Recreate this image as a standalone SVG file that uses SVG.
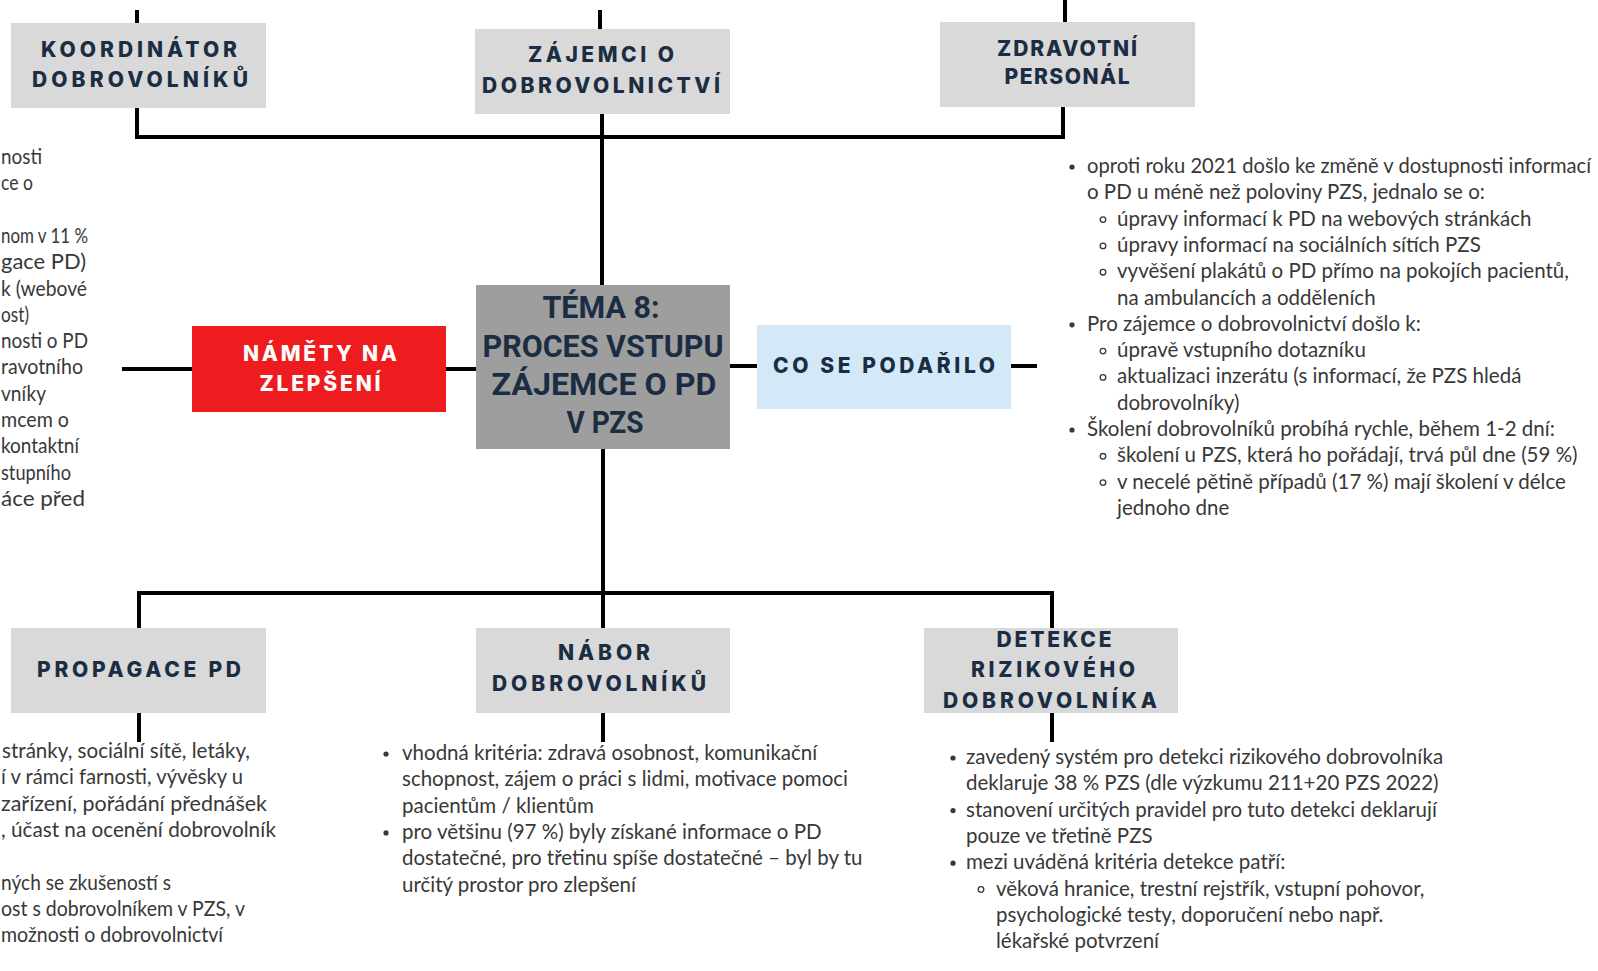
<svg xmlns="http://www.w3.org/2000/svg" width="1598" height="971" viewBox="0 0 1598 971">
  <style>
    .box { fill: #d9d9d9; }
    .hd { font-family: Inter, Lato, "Liberation Sans", sans-serif; font-weight: 800; font-size: 21px; fill: #1b2d42; text-anchor: middle; }
    .hdw { fill: #ffffff; }
    .tt { font-family: Roboto, "Liberation Sans", sans-serif; font-weight: 700; font-size: 31px; fill: #1b2d42; text-anchor: middle; }
    .bd { font-family: Lato, "Open Sans", "Liberation Sans", sans-serif; font-size: 20.5px; fill: #383838; }
    .cn { stroke: #000000; stroke-width: 4; fill: none; stroke-linecap: square; stroke-linejoin: miter; }
    .dot { fill: #383838; }
    .ring { fill: none; stroke: #383838; stroke-width: 1.3; }
  </style>

  <rect x="0" y="0" width="1598" height="971" fill="#ffffff"/>

  <!-- connectors -->
  <g id="connectors" class="cn">
    <!-- top row -->
    <line x1="137" y1="12" x2="137" y2="23"/>
    <line x1="600" y1="12" x2="600" y2="29"/>
    <line x1="1065" y1="0" x2="1065" y2="22"/>
    <polyline points="137,108 137,137 1063,137 1063,107"/>
    <line x1="602" y1="114" x2="602" y2="285"/>
    <!-- middle row -->
    <line x1="124" y1="369" x2="192" y2="369"/>
    <line x1="446" y1="369" x2="476" y2="369"/>
    <line x1="730" y1="366" x2="757" y2="366"/>
    <line x1="1011" y1="366" x2="1035" y2="366"/>
    <!-- bottom row -->
    <line x1="603" y1="449" x2="603" y2="593"/>
    <polyline points="139,628 139,593 1052,593 1052,630"/>
    <line x1="603" y1="593" x2="603" y2="628"/>
    <line x1="139" y1="713" x2="139" y2="740"/>
    <line x1="603" y1="713" x2="603" y2="740"/>
    <line x1="1052" y1="713" x2="1052" y2="740"/>
  </g>

  <!-- top row nodes -->
  <g id="koordinator">
    <rect class="box" x="11" y="23" width="255" height="85"/>
    <text class="hd" x="139" y="57" textLength="196" lengthAdjust="spacing">KOORDINÁTOR</text>
    <text class="hd" x="140" y="87" textLength="216" lengthAdjust="spacing">DOBROVOLNÍKŮ</text>
  </g>

  <g id="zajemci">
    <rect class="box" x="475" y="29" width="255" height="85"/>
    <text class="hd" x="601" y="62" textLength="146" lengthAdjust="spacing">ZÁJEMCI O</text>
    <text class="hd" x="601" y="93" textLength="238" lengthAdjust="spacing">DOBROVOLNICTVÍ</text>
  </g>

  <g id="zdravotni">
    <rect class="box" x="940" y="22" width="255" height="85"/>
    <text class="hd" x="1067" y="56" textLength="140" lengthAdjust="spacing">ZDRAVOTNÍ</text>
    <text class="hd" x="1067" y="84" textLength="125" lengthAdjust="spacing">PERSONÁL</text>
  </g>

  <!-- middle row nodes -->
  <g id="namety">
    <rect x="192" y="326" width="254" height="86" fill="#ee1c1f"/>
    <text class="hd hdw" x="320" y="361" textLength="154" lengthAdjust="spacing">NÁMĚTY NA</text>
    <text class="hd hdw" x="320" y="391" textLength="121" lengthAdjust="spacing">ZLEPŠENÍ</text>
  </g>

  <g id="tema">
    <rect x="476" y="285" width="254" height="164" fill="#9e9e9e"/>
    <text class="tt" x="601" y="318" textLength="117" lengthAdjust="spacingAndGlyphs">TÉMA 8:</text>
    <text class="tt" x="603" y="357" textLength="241" lengthAdjust="spacingAndGlyphs">PROCES VSTUPU</text>
    <text class="tt" x="604" y="395" textLength="225" lengthAdjust="spacingAndGlyphs">ZÁJEMCE O PD</text>
    <text class="tt" x="605" y="433" textLength="77" lengthAdjust="spacingAndGlyphs">V PZS</text>
  </g>

  <g id="podarilo">
    <rect x="757" y="325" width="254" height="84" fill="#d3e9f8"/>
    <text class="hd" x="884" y="373" textLength="222" lengthAdjust="spacing">CO SE PODAŘILO</text>
  </g>

  <!-- bottom row nodes -->
  <g id="propagace">
    <rect class="box" x="11" y="628" width="255" height="85"/>
    <text class="hd" x="139" y="677" textLength="204" lengthAdjust="spacing">PROPAGACE PD</text>
  </g>

  <g id="nabor">
    <rect class="box" x="476" y="628" width="254" height="85"/>
    <text class="hd" x="604" y="660" textLength="92" lengthAdjust="spacing">NÁBOR</text>
    <text class="hd" x="599" y="691" textLength="214" lengthAdjust="spacing">DOBROVOLNÍKŮ</text>
  </g>

  <g id="detekce">
    <rect class="box" x="924" y="628" width="254" height="85"/>
    <text class="hd" x="1054" y="647" textLength="115" lengthAdjust="spacing">DETEKCE</text>
    <text class="hd" x="1053" y="677" textLength="164" lengthAdjust="spacing">RIZIKOVÉHO</text>
    <text class="hd" x="1050" y="708" textLength="214" lengthAdjust="spacing">DOBROVOLNÍKA</text>
  </g>

  <!-- notes: left column (runs past the left edge) -->
  <g id="notes-left" class="bd">
    <text x="1" y="164" textLength="41" lengthAdjust="spacingAndGlyphs">nosti</text>
    <text x="1" y="190.3" textLength="32" lengthAdjust="spacingAndGlyphs">ce o</text>
    <text x="1" y="242.9" textLength="87" lengthAdjust="spacingAndGlyphs">nom v 11 %</text>
    <text x="1" y="269.2" textLength="85" lengthAdjust="spacingAndGlyphs">gace PD)</text>
    <text x="1" y="295.5" textLength="86" lengthAdjust="spacingAndGlyphs">k (webové</text>
    <text x="1" y="321.8" textLength="28" lengthAdjust="spacingAndGlyphs">ost)</text>
    <text x="1" y="348.1" textLength="87" lengthAdjust="spacingAndGlyphs">nosti o PD</text>
    <text x="1" y="374.4" textLength="82" lengthAdjust="spacingAndGlyphs">ravotního</text>
    <text x="1" y="400.7" textLength="45" lengthAdjust="spacingAndGlyphs">vníky</text>
    <text x="1" y="427" textLength="68" lengthAdjust="spacingAndGlyphs">mcem o</text>
    <text x="1" y="453.3" textLength="78" lengthAdjust="spacingAndGlyphs">kontaktní</text>
    <text x="1" y="479.6" textLength="70" lengthAdjust="spacingAndGlyphs">stupního</text>
    <text x="1" y="505.9" textLength="84" lengthAdjust="spacingAndGlyphs">áce před</text>
  </g>

  <!-- notes: right column -->
  <g id="notes-right">
    <circle class="dot" cx="1072" cy="167" r="2.6"/>
    <circle class="ring" cx="1103" cy="219.6" r="2.8"/>
    <circle class="ring" cx="1103" cy="245.9" r="2.8"/>
    <circle class="ring" cx="1103" cy="272.2" r="2.8"/>
    <circle class="dot" cx="1072" cy="324.8" r="2.6"/>
    <circle class="ring" cx="1103" cy="351.1" r="2.8"/>
    <circle class="ring" cx="1103" cy="377.4" r="2.8"/>
    <circle class="dot" cx="1072" cy="430" r="2.6"/>
    <circle class="ring" cx="1103" cy="456.3" r="2.8"/>
    <circle class="ring" cx="1103" cy="482.6" r="2.8"/>
    <g class="bd">
      <text x="1087" y="173" textLength="504" lengthAdjust="spacingAndGlyphs">oproti roku 2021 došlo ke změně v dostupnosti informací</text>
      <text x="1087" y="199.3">o PD u méně než poloviny PZS, jednalo se o:</text>
      <text x="1117" y="225.6">úpravy informací k PD na webových stránkách</text>
      <text x="1117" y="251.9">úpravy informací na sociálních sítích PZS</text>
      <text x="1117" y="278.2">vyvěšení plakátů o PD přímo na pokojích pacientů,</text>
      <text x="1117" y="304.5">na ambulancích a odděleních</text>
      <text x="1087" y="330.8">Pro zájemce o dobrovolnictví došlo k:</text>
      <text x="1117" y="357.1">úpravě vstupního dotazníku</text>
      <text x="1117" y="383.4">aktualizaci inzerátu (s informací, že PZS hledá</text>
      <text x="1117" y="409.7">dobrovolníky)</text>
      <text x="1087" y="436">Školení dobrovolníků probíhá rychle, během 1-2 dní:</text>
      <text x="1117" y="462.3">školení u PZS, která ho pořádají, trvá půl dne (59 %)</text>
      <text x="1117" y="488.6">v necelé pětině případů (17 %) mají školení v délce</text>
      <text x="1117" y="514.9">jednoho dne</text>
    </g>
  </g>

  <!-- notes: under PROPAGACE PD (runs past the left edge) -->
  <g id="notes-propagace" class="bd">
    <text x="2" y="758" textLength="248" lengthAdjust="spacingAndGlyphs">stránky, sociální sítě, letáky,</text>
    <text x="1" y="784.3" textLength="242" lengthAdjust="spacingAndGlyphs">í v rámci farnosti, vývěsky u</text>
    <text x="1" y="810.6" textLength="266" lengthAdjust="spacingAndGlyphs">zařízení, pořádání přednášek</text>
    <text x="1" y="836.9" textLength="275" lengthAdjust="spacingAndGlyphs">, účast na ocenění dobrovolník</text>
    <text x="1" y="889.5" textLength="170" lengthAdjust="spacingAndGlyphs">ných se zkušeností s</text>
    <text x="1" y="915.8" textLength="244" lengthAdjust="spacingAndGlyphs">ost s dobrovolníkem v PZS, v</text>
    <text x="1" y="942.1" textLength="222" lengthAdjust="spacingAndGlyphs">možnosti o dobrovolnictví</text>
  </g>

  <!-- notes: under NÁBOR DOBROVOLNÍKŮ -->
  <g id="notes-nabor">
    <circle class="dot" cx="386" cy="754" r="2.6"/>
    <circle class="dot" cx="386" cy="832.9" r="2.6"/>
    <g class="bd">
      <text x="402" y="760">vhodná kritéria: zdravá osobnost, komunikační</text>
      <text x="402" y="786.3">schopnost, zájem o práci s lidmi, motivace pomoci</text>
      <text x="402" y="812.6">pacientům / klientům</text>
      <text x="402" y="838.9">pro většinu (97 %) byly získané informace o PD</text>
      <text x="402" y="865.2">dostatečné, pro třetinu spíše dostatečné – byl by tu</text>
      <text x="402" y="891.5">určitý prostor pro zlepšení</text>
    </g>
  </g>

  <!-- notes: under DETEKCE RIZIKOVÉHO DOBROVOLNÍKA -->
  <g id="notes-detekce">
    <circle class="dot" cx="953" cy="758" r="2.6"/>
    <circle class="dot" cx="953" cy="810.6" r="2.6"/>
    <circle class="dot" cx="953" cy="863.2" r="2.6"/>
    <circle class="ring" cx="981" cy="889.5" r="2.8"/>
    <g class="bd">
      <text x="966" y="764">zavedený systém pro detekci rizikového dobrovolníka</text>
      <text x="966" y="790.3">deklaruje 38 % PZS (dle výzkumu 211+20 PZS 2022)</text>
      <text x="966" y="816.6">stanovení určitých pravidel pro tuto detekci deklarují</text>
      <text x="966" y="842.9">pouze ve třetině PZS</text>
      <text x="966" y="869.2">mezi uváděná kritéria detekce patří:</text>
      <text x="996" y="895.5">věková hranice, trestní rejstřík, vstupní pohovor,</text>
      <text x="996" y="921.8">psychologické testy, doporučení nebo např.</text>
      <text x="996" y="948.1">lékařské potvrzení</text>
    </g>
  </g>
</svg>
